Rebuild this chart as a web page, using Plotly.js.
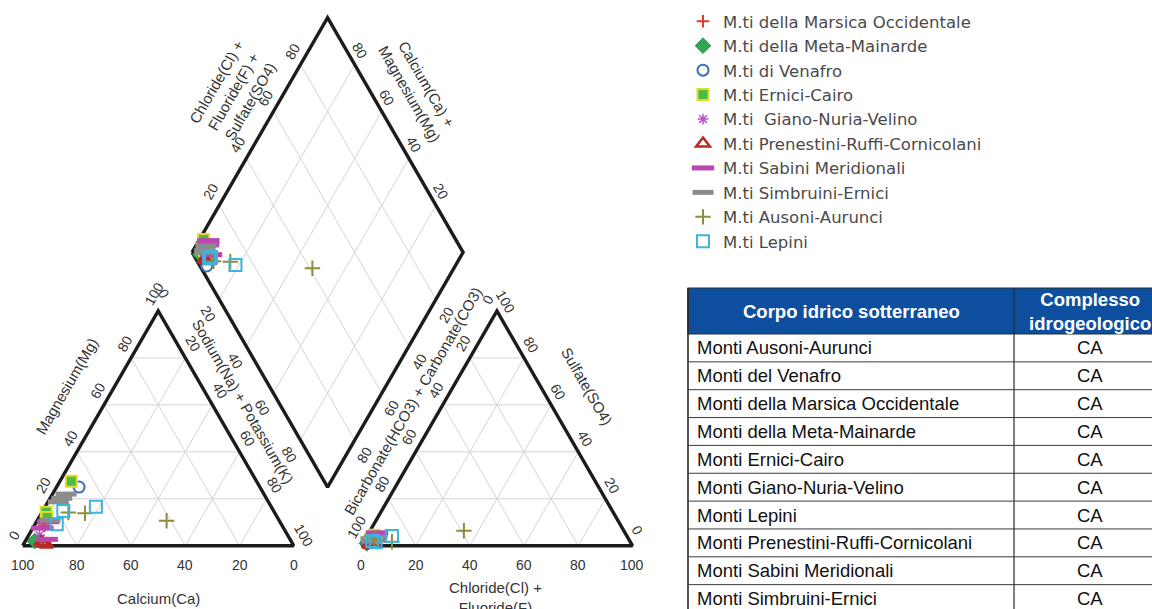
<!DOCTYPE html>
<html>
<head>
<meta charset="utf-8">
<script src="https://cdn.plot.ly/plotly-3.0.1.min.js"></script>
<style>
  html, body { margin: 0; padding: 0; background: #fff; overflow: hidden; }
  #chart { width: 1152px; height: 609px; }
</style>
</head>
<body>
<div id="chart"></div>
<script>
// Piper diagram of the carbonate aquifers (CA) + legend + table of water bodies.

// --- series (legend order) ---
const NAMES = [
  'M.ti della Marsica Occidentale', 'M.ti della Meta-Mainarde', 'M.ti di Venafro',
  'M.ti Ernici-Cairo', 'M.ti  Giano-Nuria-Velino', 'M.ti Prenestini-Ruffi-Cornicolani',
  'M.ti Sabini Meridionali', 'M.ti Simbruini-Ernici', 'M.ti Ausoni-Aurunci', 'M.ti Lepini'
];

// --- samples: series index + % meq of cations and anions ---
const grp  = [0, 0, 1, 2, 3, 3, 3, 4, 5, 5, 5, 6, 6, 6, 7, 7, 7, 7, 8, 8, 8, 9, 9, 9];
const ca   = [87.7, 87.7, 94.5, 66.7, 68.3, 84.2, 85.0, 91.5, 92.0, 91.0, 92.5, 85.5, 89.8, 89.0, 73.0, 75.5, 77.5, 84.5, 41.6, 70.1, 76.1, 64.7, 77.6, 82.9];
const mg   = [9.5, 8.5, 2.0, 25.0, 27.5, 14.3, 12.0, 4.5, 1.0, 0.5, 1.5, 10.2, 2.7, 7.5, 22.0, 20.2, 18.7, 10.9, 10.6, 13.8, 14.1, 16.6, 14.8, 9.1];
const nak  = [2.8, 3.8, 3.5, 8.3, 4.2, 1.5, 3.0, 4.0, 7.0, 8.5, 6.0, 4.3, 7.5, 3.5, 5.0, 4.3, 3.8, 4.6, 47.8, 16.1, 9.8, 18.7, 7.6, 8.0];
const hco3 = [94.5, 94.5, 97.5, 97.5, 95.0, 93.0, 95.5, 95.5, 96.5, 95.0, 97.0, 92.5, 93.5, 91.5, 95.0, 95.0, 93.5, 95.0, 59.0, 87.9, 94.0, 86.7, 95.0, 94.0];
const so4  = [3.0, 2.0, 1.0, 1.0, 3.0, 4.5, 2.5, 2.0, 0.5, 1.0, 0.5, 4.0, 2.5, 5.5, 3.0, 2.5, 3.5, 2.0, 6.4, 1.7, 2.5, 4.1, 2.0, 1.5];
const cl   = [2.5, 3.5, 1.5, 1.5, 2.0, 2.5, 2.0, 2.5, 3.0, 4.0, 2.5, 3.5, 4.0, 3.0, 2.0, 2.5, 3.0, 3.0, 34.6, 10.4, 3.5, 9.2, 3.0, 4.5];

const TICKS = [0, 20, 40, 60, 80, 100];
const INNER = [20, 40, 60, 80];

// --- table ---
const HEADER = ['Corpo idrico sotterraneo', 'Complesso<br>idrogeologico'];
const BODIES = [
  'Monti Ausoni-Aurunci', 'Monti del Venafro', 'Monti della Marsica Occidentale',
  'Monti della Meta-Mainarde', 'Monti Ernici-Cairo', 'Monti Giano-Nuria-Velino',
  'Monti Lepini', 'Monti Prenestini-Ruffi-Cornicolani', 'Monti Sabini Meridionali',
  'Monti Simbruini-Ernici'
];
const COMPLEX = ['CA', 'CA', 'CA', 'CA', 'CA', 'CA', 'CA', 'CA', 'CA', 'CA'];

// marker styles per series
const STYLE = [
  { symbol: 'cross-thin-open', color: '#e2362e', size: 9, line: { color: '#e2362e', width: 2 } },
  { symbol: 'diamond', color: '#33a852', size: 12, line: { color: '#2b8f45', width: 1 } },
  { symbol: 'circle-open', color: '#3d6fb6', size: 11, line: { color: '#3d6fb6', width: 2 } },
  { symbol: 'square', color: '#4fbb47', size: 11, line: { color: '#dede2a', width: 2 } },
  { symbol: 'asterisk-open', color: '#b455c8', size: 9, line: { color: '#b455c8', width: 1.5 } },
  { symbol: 'triangle-up-open', color: '#b82a28', size: 12, line: { color: '#b82a28', width: 2.5 } },
  { symbol: 'line-ew-open', color: '#b847b0', size: 16, line: { color: '#b847b0', width: 5 } },
  { symbol: 'line-ew-open', color: '#8c8c8c', size: 15, line: { color: '#8c8c8c', width: 5 } },
  { symbol: 'cross-thin-open', color: '#8e8c3c', size: 11, line: { color: '#8e8c3c', width: 2 } },
  { symbol: 'square-open', color: '#3cb4dc', size: 12, line: { color: '#3cb4dc', width: 2 } },
];

// --- geometry (units: triangle side = 100) ---
const W = 1152, HT = 609;
const PX = 2.71, OX = 22.7, OY = 545.7;     // px per unit, pixel of cation Ca corner
const GAP = 25;
const H = Math.sqrt(3) / 2;
const lerp = (a, b, t) => [a[0] + (b[0] - a[0]) * t, a[1] + (b[1] - a[1]) * t];

const P0 = [0, 0], P1 = [100, 0], P2 = [50, 100 * H];                         // Ca, Na+K, Mg
const Q0 = [100 + GAP, 0], Q1 = [200 + GAP, 0], Q2 = [150 + GAP, 100 * H];   // HCO3, Cl, SO4
const DB = [100 + GAP / 2, GAP / 2 * Math.sqrt(3)];
const DL = [DB[0] - 50, DB[1] + 100 * H], DR = [DB[0] + 50, DB[1] + 100 * H], DT = [DB[0], DB[1] + 200 * H];

function catPt(c, m, n) { const t = c + m + n; return [100 * (n + m / 2) / t, 100 * m * H / t]; }
function aniPt(h, s, c) { const t = h + s + c; return [Q0[0] + 100 * (c + s / 2) / t, 100 * s * H / t]; }
function diaPt(n, s) {  // n = (Na+K) fraction, s = (Cl+SO4) fraction
  return [DL[0] + 50 * n + 50 * s, DL[1] - 100 * H * n + 100 * H * s];
}

// grid lines
const gx = [], gy = [];
function seg(a, b) { gx.push(a[0], b[0], null); gy.push(a[1], b[1], null); }
function triGrid(A, B, C) {
  INNER.forEach(v => {
    const t = v / 100;
    seg(lerp(A, C, t), lerp(B, C, t));
    seg(lerp(A, B, t), lerp(B, C, 1 - t));
    seg(lerp(A, B, t), lerp(A, C, t));
  });
}
triGrid(P0, P1, P2);
triGrid(Q0, Q1, Q2);
INNER.forEach(v => {
  const t = v / 100;
  seg(lerp(DL, DB, t), lerp(DT, DR, t));
  seg(lerp(DL, DT, t), lerp(DB, DR, t));
});

// outlines
const ox = [], oy = [];
[[P0, P1, P2], [Q0, Q1, Q2], [DL, DB, DR, DT]].forEach(poly => {
  poly.concat([poly[0]]).forEach(p => { ox.push(p[0]); oy.push(p[1]); });
  ox.push(null); oy.push(null);
});

const traces = [
  { type: 'scatter', mode: 'lines', x: gx, y: gy, line: { color: '#d4d4d4', width: 1 }, hoverinfo: 'skip', showlegend: false },
  { type: 'scatter', mode: 'lines', x: ox, y: oy, line: { color: '#1c1c1c', width: 3.4 }, hoverinfo: 'skip', showlegend: false },
];

NAMES.forEach((name, k) => {
  const xs = [], ys = [];
  grp.forEach((g, i) => {
    if (g !== k) return;
    const a = catPt(ca[i], mg[i], nak[i]);
    const b = aniPt(hco3[i], so4[i], cl[i]);
    const tc = ca[i] + mg[i] + nak[i], ta = hco3[i] + so4[i] + cl[i];
    const d = diaPt(nak[i] / tc, (so4[i] + cl[i]) / ta);
    [a, b, d].forEach(p => { xs.push(p[0]); ys.push(p[1]); });
  });
  traces.push({
    type: 'scatter', mode: 'markers', name, x: xs, y: ys, cliponaxis: false,
    marker: STYLE[k],
  });
});

// --- tick labels and titles ---
const TF = { family: 'Liberation Sans, Arial, sans-serif', size: 14, color: '#333' };
const HF = { family: 'Liberation Sans, Arial, sans-serif', size: 15, color: '#333' };
const ann = [];
function tick(p, v, dx, dy, ang) {
  const txt = String(v);
  let ex = 0, ey = 0;
  if (ang) {                      // long labels reach further along the reading direction
    const e = (txt.length - 2) * 3.9;
    ex = 0.5 * e; ey = (ang < 0 ? -H : H) * e;
  }
  ann.push({ x: p[0], y: p[1], text: txt, showarrow: false, textangle: ang,
    xshift: dx + ex, yshift: -(dy + ey), font: TF });
}
function title(px, py, text, ang) {
  ann.push({ x: (px - OX) / PX, y: (OY - py) / PX, text, showarrow: false, textangle: ang, font: HF });
}

TICKS.forEach(v => {
  const t = v / 100;
  tick(lerp(P1, P0, t), v, 0, 19.5, 0);        // Calcium
  tick(lerp(P0, P2, t), v, -6.5, -14, -60);    // Magnesium
  tick(lerp(P2, P1, t), v, 8, -14, 60);        // Sodium + Potassium
  tick(lerp(Q0, Q1, t), v, 0, 19.5, 0);        // Chloride + Fluoride
  tick(lerp(Q2, Q0, t), v, -6.7, -15, -60);    // Bicarbonate + Carbonate
  tick(lerp(Q1, Q2, t), v, 7, -12.8, 60);      // Sulfate
});
INNER.forEach(v => {
  const t = v / 100;
  tick(lerp(DL, DT, t), v, -8, -14, -60);      // Cl + F + SO4
  tick(lerp(DR, DT, t), v, 5.5, -13.8, 60);    // Ca + Mg
  tick(lerp(DL, DB, t), v, -11, 15, 60);       // Na + K
  tick(lerp(DR, DB, t), v, 10, 15.3, -60);     // HCO3 + CO3
});

title(158, 598, 'Calcium(Ca)', 0);
title(66.7, 386.7, 'Magnesium(Mg)', -60);
title(243.3, 401, 'Sodium(Na) + Potassium(K)', 60);
title(233, 92, 'Chloride(Cl) +<br>Fluoride(F) +<br>Sulfate(SO4)', -60);
title(417.5, 88.5, 'Calcium(Ca) +<br>Magnesium(Mg)', 60);
title(413.3, 400.7, 'Bicarbonate(HCO3) + Carbonate(CO3)', -60);
title(587.3, 386, 'Sulfate(SO4)', 60);
title(495, 597, 'Chloride(Cl) +<br>Fluoride(F)', 0);

// --- table drawn in paper space: header band, row rules, text ---
const TX0 = 688, TXS = 1014, TX1 = 1160, TY0 = 288, THH = 46, TRH = 27.85;
const TC2 = 1090;                       // centre of the (cut) second column
const px2x = x => x / W, px2y = y => 1 - y / HT;
const TBF = { family: 'Liberation Sans, Arial, sans-serif', size: 18.5, color: '#111' };
const shapes = [];
const tBottom = TY0 + THH + BODIES.length * TRH;
shapes.push({ type: 'rect', xref: 'paper', yref: 'paper', x0: px2x(TX0), x1: px2x(TX1), y0: px2y(TY0), y1: px2y(TY0 + THH),
  fillcolor: '#0d4f9e', line: { color: '#233', width: 1.2 } });
shapes.push({ type: 'line', xref: 'paper', yref: 'paper', x0: px2x(TX0), x1: px2x(TX0), y0: px2y(TY0), y1: px2y(tBottom),
  line: { color: '#2a2a2a', width: 1.6 } });
shapes.push({ type: 'line', xref: 'paper', yref: 'paper', x0: px2x(TXS), x1: px2x(TXS), y0: px2y(TY0), y1: px2y(tBottom),
  line: { color: '#2a2a2a', width: 1.2 } });
BODIES.forEach((b, i) => {
  const yTop = TY0 + THH + i * TRH;
  shapes.push({ type: 'line', xref: 'paper', yref: 'paper', x0: px2x(TX0), x1: px2x(TX1), y0: px2y(yTop + TRH), y1: px2y(yTop + TRH),
    line: { color: '#3a3a3a', width: 1 } });
  ann.push({ xref: 'paper', yref: 'paper', x: px2x(TX0 + 7), y: px2y(yTop + TRH / 2), xanchor: 'left', yanchor: 'middle',
    text: b, showarrow: false, font: TBF });
  ann.push({ xref: 'paper', yref: 'paper', x: px2x(TC2), y: px2y(yTop + TRH / 2), xanchor: 'center', yanchor: 'middle',
    text: COMPLEX[i], showarrow: false, font: TBF });
});
const HBF = { family: 'Liberation Sans, Arial, sans-serif', size: 18.5, color: '#fff' };
ann.push({ xref: 'paper', yref: 'paper', x: px2x((TX0 + TXS) / 2), y: px2y(TY0 + THH / 2), xanchor: 'center', yanchor: 'middle',
  text: '<b>' + HEADER[0] + '</b>', showarrow: false, font: HBF });
ann.push({ xref: 'paper', yref: 'paper', x: px2x(TC2), y: px2y(TY0 + THH / 2), xanchor: 'center', yanchor: 'middle',
  text: '<b>' + HEADER[1] + '</b>', showarrow: false, font: HBF });

const axis = { visible: false, showgrid: false, zeroline: false, fixedrange: true };
const layout = {
  width: W, height: HT,
  margin: { l: 0, r: 0, t: 0, b: 0 },
  paper_bgcolor: '#fff', plot_bgcolor: '#fff',
  xaxis: Object.assign({ range: [-OX / PX, (W - OX) / PX] }, axis),
  yaxis: Object.assign({ range: [-(HT - OY) / PX, OY / PX] }, axis),
  showlegend: true,
  legend: {
    x: 683 / W, y: 1 - 4 / HT, xanchor: 'left', yanchor: 'top',
    bgcolor: 'rgba(255,255,255,0)',
    font: { family: 'DejaVu Sans, sans-serif', size: 16.5, color: '#4a4a4a' },
  },
  shapes,
  annotations: ann,
};

Plotly.newPlot('chart', traces, layout, { displayModeBar: false, staticPlot: true });
</script>
</body>
</html>
